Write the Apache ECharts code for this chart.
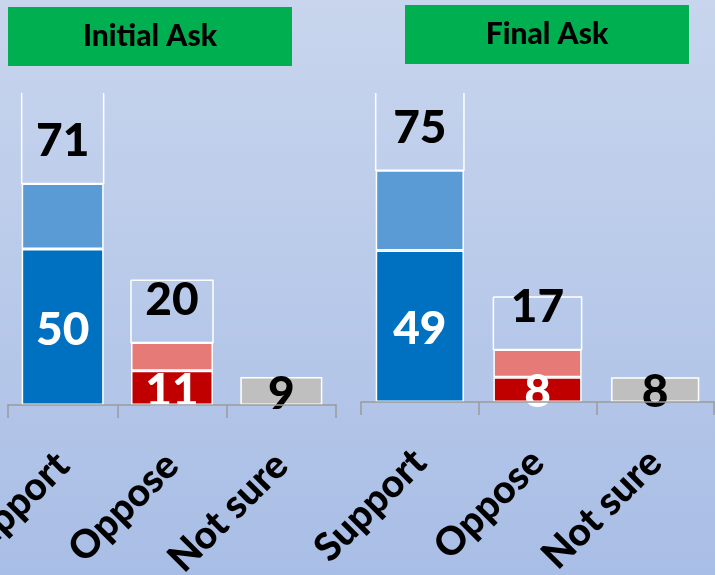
<!DOCTYPE html>
<html>
<head>
<meta charset="utf-8">
<script src="https://cdn.jsdelivr.net/npm/echarts@6/dist/echarts.min.js"></script>
<style>
html, body { margin: 0; padding: 0; }
#chart { width: 715px; height: 575px; }
</style>
</head>
<body>
<div id="chart"></div>
<script>
// 数据
var categories = ['Support', 'Oppose', 'Not sure'];
var panelTitles = ['Initial Ask', 'Final Ask'];
var initialStrong = [50, 11, 9];    // 深色部分
var initialSoft = [21, 9, null];    // 浅色部分
var initialTotal = [71, 20, null];  // 合计框
var finalStrong = [49, 8, 8];
var finalSoft = [26, 9, null];
var finalTotal = [75, 17, null];

var Y_MAX = 100;
var FONT = 'Lato';
var strongColors = ['#0070C0', '#C00000', '#BFBFBF'];
var softColors = ['#5B9BD5', '#E57A77', '#BFBFBF'];
var strongLabelColors = ['#fff', '#fff', '#000'];

var chart = echarts.init(document.getElementById('chart'));

function strongData(arr) {
    return arr.map(function (v, i) {
        return {
            value: v,
            itemStyle: {color: strongColors[i]},
            label: {color: strongLabelColors[i]}
        };
    });
}

function softData(arr) {
    return arr.map(function (v, i) {
        return {value: v == null ? '-' : v, itemStyle: {color: softColors[i]}};
    });
}

function boxData(arr) {
    var out = [];
    for (var i = 0; i < arr.length; i++) {
        if (arr[i] != null) out.push([i, arr[i]]);
    }
    return out;
}

// 合计框：白色边框，超出范围的顶部不画
function renderBox(params, api) {
    var idx = api.value(0);
    var total = api.value(1);
    var w = api.size([1, 0])[0] * 0.75;
    var cx = api.coord([idx, 0])[0];
    var x0 = cx - w / 2, x1 = cx + w / 2;
    var yb = api.coord([idx, total])[1];
    var topVal = total * 2;
    var yt = api.coord([idx, Math.min(topVal, Y_MAX)])[1];
    var pts = topVal > Y_MAX
        ? [[x0, yt], [x0, yb], [x1, yb], [x1, yt]]
        : [[x0, yt], [x0, yb], [x1, yb], [x1, yt], [x0, yt]];
    return {
        type: 'group',
        children: [
            {
                type: 'polyline',
                shape: {points: pts},
                style: {stroke: '#fff', lineWidth: 1.5, fill: null}
            },
            {
                type: 'text',
                style: {
                    text: String(total),
                    x: cx,
                    y: yb - 42,
                    align: 'center',
                    verticalAlign: 'middle',
                    fill: '#000',
                    font: '900 46px ' + FONT
                }
            }
        ]
    };
}

function makeSeries(gi, strong, soft, total) {
    return [
        {
            type: 'bar',
            stack: 's' + gi,
            xAxisIndex: gi,
            yAxisIndex: gi,
            barCategoryGap: '25%',
            itemStyle: {borderColor: '#fff', borderWidth: 1.5},
            label: {
                show: true,
                position: 'inside',
                fontFamily: FONT,
                fontWeight: 900,
                fontSize: 46,
                offset: [0, 3]
            },
            data: strongData(strong)
        },
        {
            type: 'bar',
            stack: 's' + gi,
            xAxisIndex: gi,
            yAxisIndex: gi,
            barCategoryGap: '25%',
            itemStyle: {borderColor: '#fff', borderWidth: 1.5},
            data: softData(soft)
        },
        {
            type: 'custom',
            xAxisIndex: gi,
            yAxisIndex: gi,
            renderItem: renderBox,
            encode: {x: 0, y: 1},
            z: 3,
            data: boxData(total)
        }
    ];
}

function xAxisOpt(gi) {
    return {
        type: 'category',
        gridIndex: gi,
        data: categories,
        z: 10,
        axisLine: {show: true, lineStyle: {color: '#9a9a9a', width: 1.5}},
        axisTick: {show: true, inside: false, alignWithLabel: false, length: 13,
            lineStyle: {color: '#9a9a9a', width: 1.5}},
        axisLabel: {
            rotate: 45,
            interval: 0,
            margin: 54,
            color: '#000',
            fontFamily: FONT,
            fontWeight: 900,
            fontSize: 39
        }
    };
}

function yAxisOpt(gi) {
    return {
        type: 'value',
        gridIndex: gi,
        min: 0,
        max: Y_MAX,
        show: false,
        splitLine: {show: false}
    };
}

function header(x, y, w, h, text) {
    return {
        type: 'rect',
        shape: {x: x, y: y, width: w, height: h},
        style: {fill: '#00B050'},
        textContent: {
            style: {text: text, fill: '#000', font: '900 30px ' + FONT}
        },
        textConfig: {position: 'inside'}
    };
}

chart.setOption({
    backgroundColor: {
        type: 'linear', x: 0, y: 0, x2: 0, y2: 1,
        colorStops: [
            {offset: 0, color: '#c8d5ed'},
            {offset: 1, color: '#a9bee6'}
        ]
    },
    animation: false,
    grid: [
        {left: 8, top: 93, width: 328, height: 312, outerBoundsMode: 'none', containLabel: false},
        {left: 361, top: 93, width: 353, height: 309, outerBoundsMode: 'none', containLabel: false}
    ],
    xAxis: [xAxisOpt(0), xAxisOpt(1)],
    yAxis: [yAxisOpt(0), yAxisOpt(1)],
    graphic: [
        header(8, 7, 284, 59, panelTitles[0]),
        header(405, 5, 284, 59, panelTitles[1])
    ],
    series: makeSeries(0, initialStrong, initialSoft, initialTotal)
        .concat(makeSeries(1, finalStrong, finalSoft, finalTotal))
});
</script>
</body>
</html>
